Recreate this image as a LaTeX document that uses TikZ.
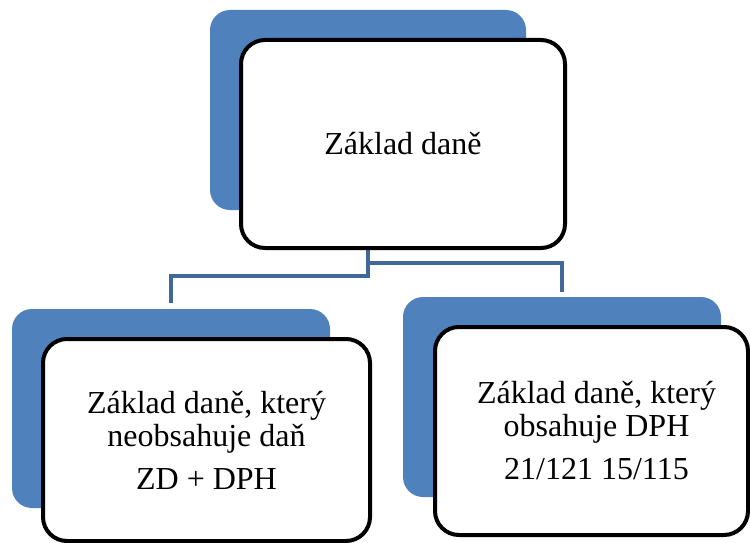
\documentclass[tikz,border=0pt]{standalone}
\usepackage{fontspec}
\setmainfont{Liberation Serif}
\usetikzlibrary{backgrounds}
\definecolor{boxblue}{HTML}{4F81BD}
\definecolor{linkblue}{HTML}{41689A}

\begin{document}
\begin{tikzpicture}[
        x=1pt, y=-1pt,
        % Styles of the boxes
        backbox/.style={rectangle, rounded corners=20pt, fill=boxblue, draw=none, inner sep=0pt},
        textbox/.style={rectangle, rounded corners=24pt, fill=white, draw=black, line width=4pt, align=center, inner sep=0pt, font=\fontsize{32}{33}\selectfont},
        % Style of the connectors
        link/.style={draw=linkblue, line width=4.5pt}
    ]
    \useasboundingbox (0,0) rectangle (750,543);

    % Top: Zaklad dane
    \node[backbox, minimum width=316pt, minimum height=200pt] (topback) at (368,110) {};
    \node[textbox, minimum width=324pt, minimum height=208pt] (topbox) at (403,144) {Základ daně};

    % Left child
    \node[backbox, minimum width=318pt, minimum height=199pt] (leftback) at (171,408.5) {};
    \node[textbox, minimum width=327pt, minimum height=202pt] (leftbox) at (206.5,440) {Základ daně, který\\neobsahuje daň\\[10pt]ZD + DPH};

    % Right child
    \node[backbox, minimum width=318pt, minimum height=200pt] (rightback) at (562,397) {};
    \node[textbox, minimum width=313pt, minimum height=208pt] (rightbox) at (591.5,431) {\hspace*{10pt}Základ daně, který\\\hspace*{10pt}obsahuje DPH\\[10pt]\hspace*{10pt}21/121 15/115};

    % Connectors (behind the boxes)
    \begin{pgfonlayer}{background}
        \draw[link] (topback.south) -- ++(0,66) -| ([yshift=6pt]leftback.north);
        \draw[link] (topback.south) -- ++(0,53) -| ([yshift=5pt]rightback.north);
    \end{pgfonlayer}

\end{tikzpicture}
\end{document}
